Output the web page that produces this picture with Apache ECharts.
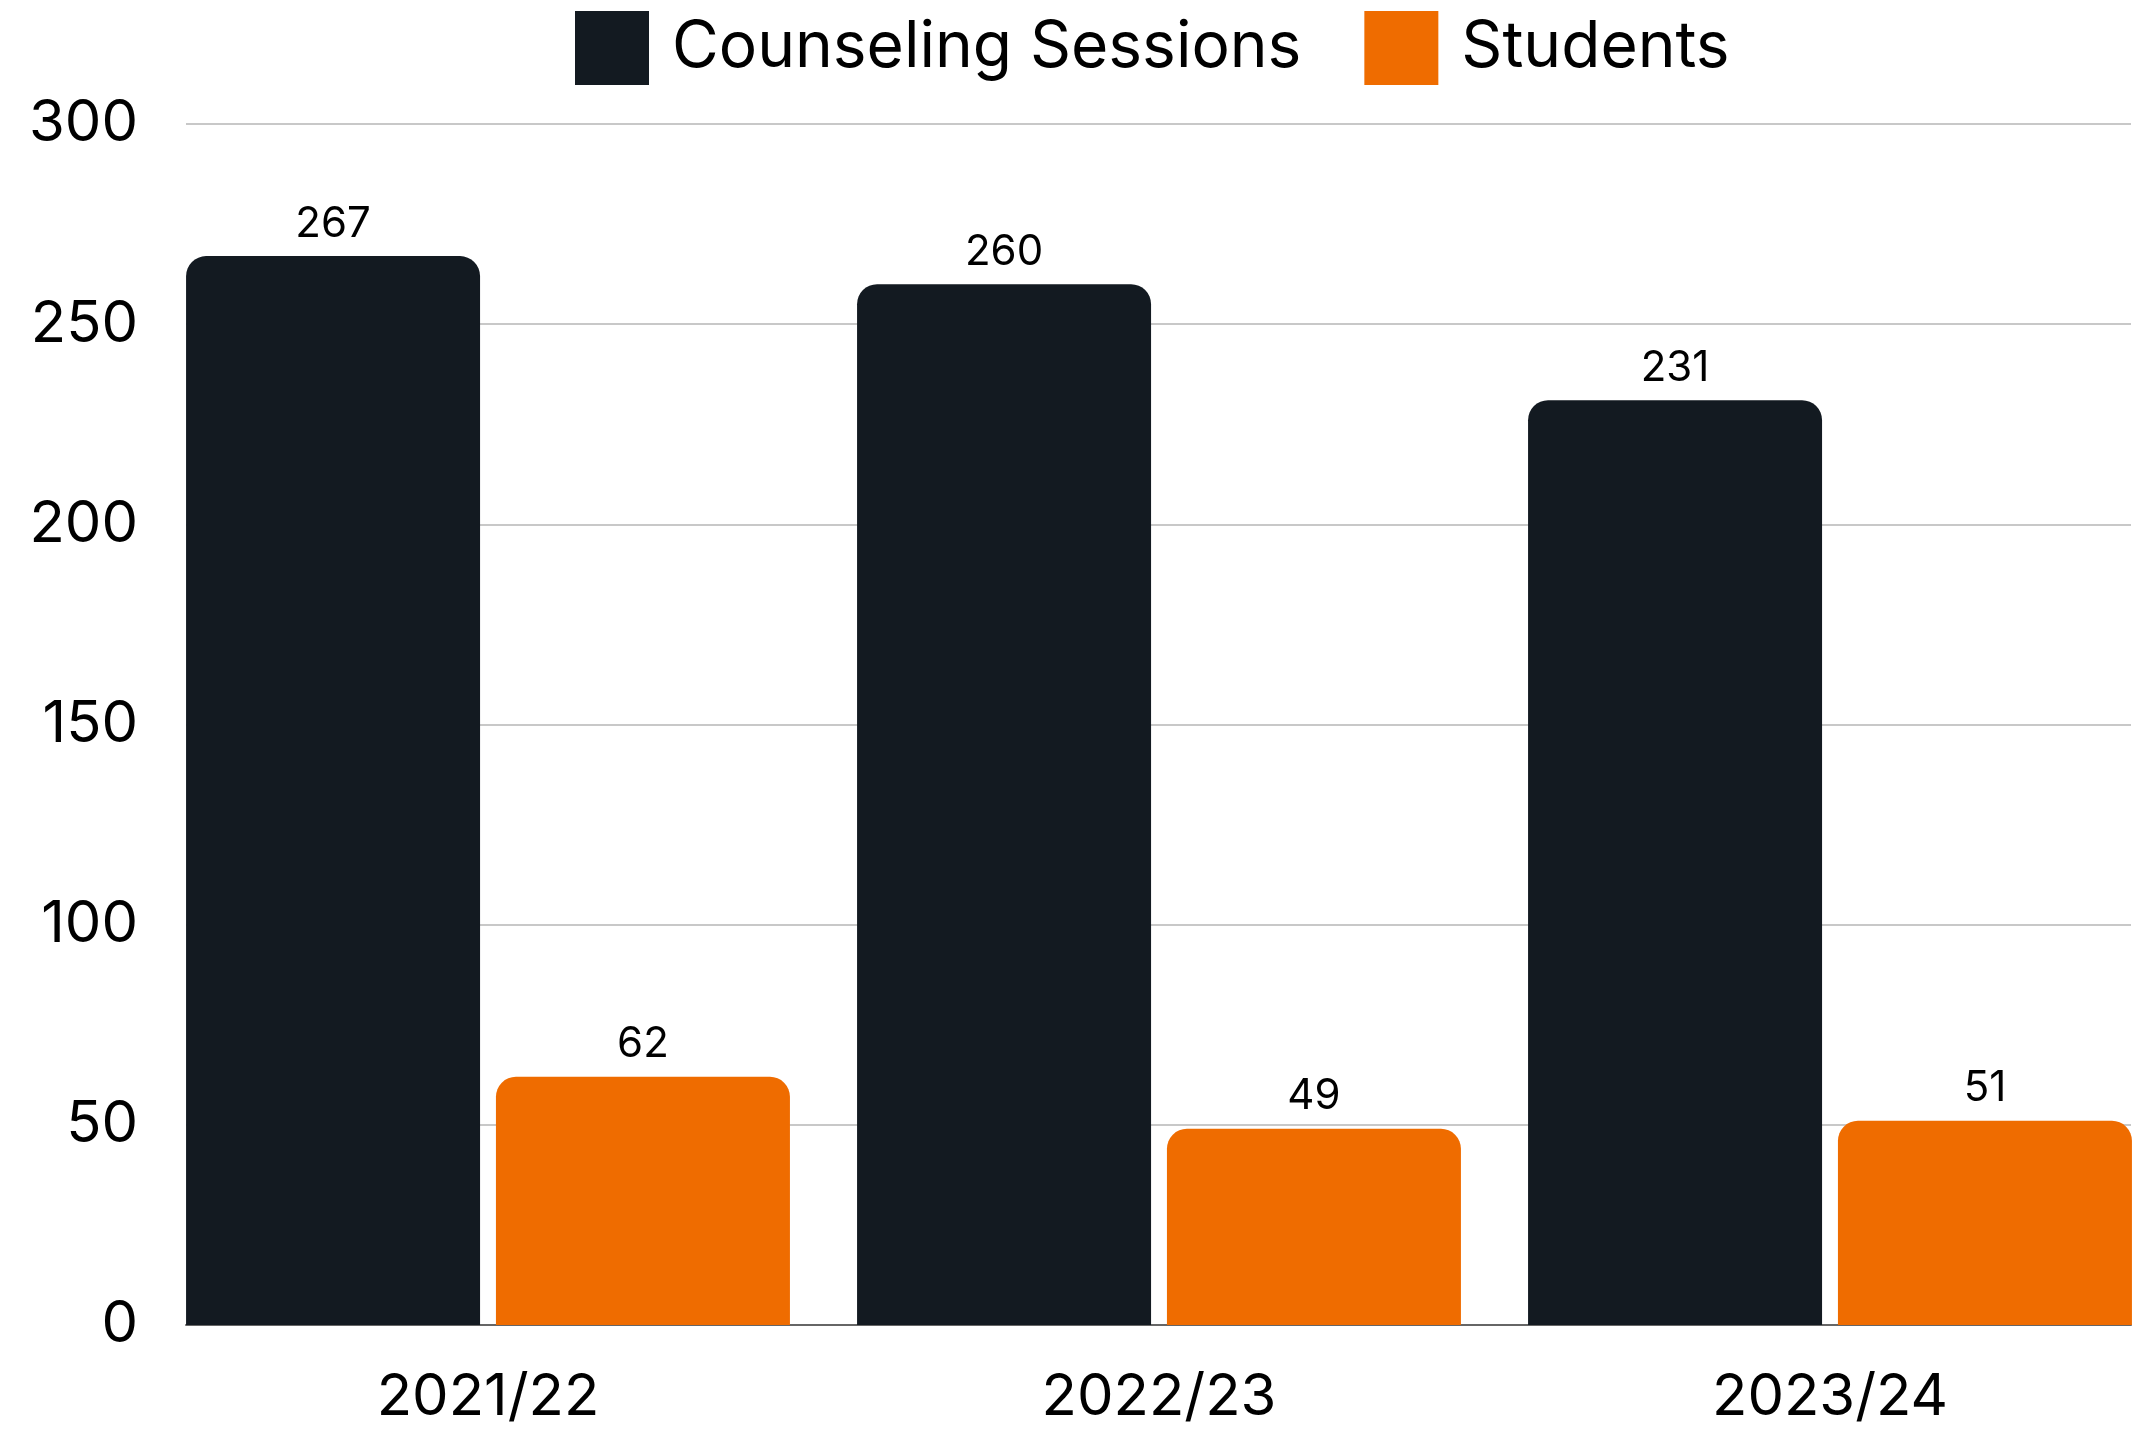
<!DOCTYPE html>
<html>
<head>
<meta charset="utf-8">
<script src="https://cdn.jsdelivr.net/npm/echarts@6/dist/echarts.min.js"></script>
<style>
html,body{margin:0;padding:0;background:#fff;}
#chart{width:2147px;height:1429px;}
</style>
</head>
<body>
<div id="chart"></div>
<script>
const categories = ['2021/22', '2022/23', '2023/24'];
const sessions = [267, 260, 231];
const students = [62, 49, 51];
const yTicks = [0, 50, 100, 150, 200, 250, 300];

const FONT = 'Inter, "Noto Sans", sans-serif';
const chart = echarts.init(document.getElementById('chart'));
chart.setOption({
  animation: false,
  backgroundColor: '#ffffff',
  textStyle: { fontFamily: FONT },
  legend: {
    top: 6,
    left: 570,
    itemWidth: 74,
    itemHeight: 74,
    itemGap: 63,
    icon: 'rect',
    textStyle: { fontSize: 64, color: '#000', fontFamily: FONT, padding: [0, 0, 0, 18] },
    data: ['Counseling Sessions', 'Students']
  },
  grid: [
    { left: 186, right: 16, top: 124, bottom: 104 },
    { left: 488, width: 1342, top: 124, bottom: 104 }
  ],
  xAxis: [
    {
      gridIndex: 0, type: 'category', data: categories,
      axisLine: { show: true, lineStyle: { color: '#666', width: 2 } },
      axisTick: { show: false }, axisLabel: { show: false }, splitLine: { show: false }
    },
    {
      gridIndex: 1, type: 'category', data: categories, boundaryGap: false,
      axisLine: { show: false }, axisTick: { show: false }, splitLine: { show: false },
      axisLabel: { fontSize: 58, color: '#000', margin: 44, fontFamily: FONT }
    }
  ],
  yAxis: [
    {
      gridIndex: 0, type: 'value', min: yTicks[0], max: yTicks[yTicks.length - 1], interval: 50,
      axisLine: { show: false }, axisTick: { show: false },
      axisLabel: { fontSize: 58, color: '#000', margin: 48, fontFamily: FONT, padding: [14, 0, 0, 0] },
      splitLine: { show: true, lineStyle: { color: '#c8c8c8', width: 2 } }
    },
    {
      gridIndex: 1, type: 'value', min: yTicks[0], max: yTicks[yTicks.length - 1], interval: 50,
      show: false, splitLine: { show: false }
    }
  ],
  series: [
    {
      name: 'Counseling Sessions', type: 'bar', xAxisIndex: 1, yAxisIndex: 1, clip: false,
      data: sessions, barWidth: 294, barGap: '5.4%',
      itemStyle: { color: '#131a21', borderRadius: [20, 20, 0, 0] },
      label: { show: true, position: 'top', distance: 11, fontSize: 42, color: '#000', fontFamily: FONT }
    },
    {
      name: 'Students', type: 'bar', xAxisIndex: 1, yAxisIndex: 1, clip: false,
      data: students, barWidth: 294, barGap: '5.4%',
      itemStyle: { color: '#ef6c00', borderRadius: [20, 20, 0, 0] },
      label: { show: true, position: 'top', distance: 11, fontSize: 42, color: '#000', fontFamily: FONT }
    }
  ]
});
</script>
</body>
</html>
